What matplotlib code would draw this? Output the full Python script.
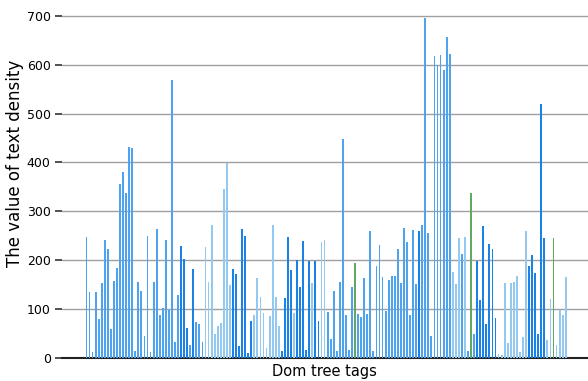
import matplotlib
matplotlib.use("Agg")
import matplotlib.pyplot as plt

# text density per DOM tree tag
density = [
    248, 136, 12, 134, 80, 153, 241, 223, 60, 158, 185, 356, 381, 338, 431, 429,
    14, 156, 137, 44, 250, 13, 155, 264, 88, 102, 241,
    99, 568, 32, 128, 229, 203, 61, 27, 182, 74, 70, 32, 227, 156, 273, 49, 65,
    72, 346, 399, 149, 182, 172, 25, 263, 250, 10,
    75, 88, 164, 125, 92, 20, 85, 273, 124, 65, 15, 123, 247, 180, 92, 200, 145,
    239, 16, 199, 154, 199, 76, 238, 241, 95, 39,
    137, 14, 155, 447, 88, 17, 146, 194, 90, 84, 164, 90, 260, 14, 188, 231, 165,
    97, 159, 167, 168, 223, 154, 265, 237, 88, 262,
    152, 259, 273, 695, 256, 44, 617, 600, 619, 590, 656, 622, 176, 152, 246, 212,
    247, 14, 337, 49, 199, 118, 270, 70, 233, 223, 82, 8,
    6, 154, 30, 154, 156, 167, 12, 42, 260, 188, 210, 174, 50, 520, 245, 37, 121,
    246, 26, 99, 87, 165,
]

# colour group of each bar: m = mid blue, d = dark blue, l = light blue, g = green
groups = (
    "m" * 31
    + "dddmdmmm" + "lllllllll" + "dddddd"
    + "d" + "lllllllll" + "dddd" + "l" + "dddd"
    + "dldd" + "llmm"
    + "mmmmmmmgmmmmmmmmmmmmmmmmmmm"
    + "mdmmmmmmmmmm" + "lllmlmgm" + "ddddddd" + "l"
    + "lllllllll" + "dddddd" + "llglll" + "l"
)

palette = {"m": "#4da3ee", "d": "#1a82e6", "l": "#93c8f0", "g": "#62a862"}
colors = [palette[g] for g in groups]

fig = plt.figure(figsize=(5.88, 3.81), dpi=100)
ax = fig.add_axes([0.105, 0.0604, 0.895, 0.911])

x = range(len(density))
ax.bar(x, density, width=0.6, color=colors, linewidth=0, zorder=3)

ax.set_xlim(-8.1, 164.3)
ax.set_ylim(0, 710)
ax.set_yticks(range(0, 701, 100))
ax.set_xticks([])
ax.yaxis.grid(True, color="#a0a0a0", linewidth=1.0, zorder=0)

for side in ["left", "right", "top"]:
    ax.spines[side].set_visible(False)
ax.spines["bottom"].set_color("#222222")
ax.spines["bottom"].set_linewidth(1.5)

ax.tick_params(axis="y", length=5, width=1.2, color="#333333", labelsize=9, pad=3)
ax.set_xlabel("Dom tree tags", fontsize=10.5)
ax.set_ylabel("The value of text density", fontsize=12)
ax.xaxis.set_label_coords(0.5, -0.018)
ax.yaxis.set_label_coords(-0.072, 0.562)

fig.savefig("out.png", dpi=100)
